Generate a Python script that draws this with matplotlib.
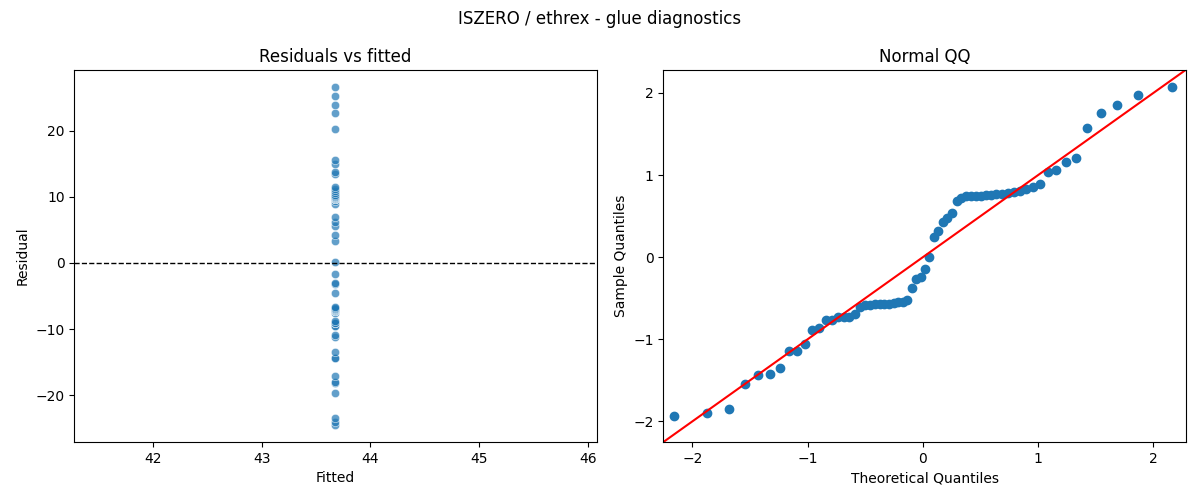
import numpy as np
import matplotlib
matplotlib.use("Agg")
import matplotlib.pyplot as plt
import seaborn as sns
from statistics import NormalDist

# residuals of the glue model (sorted)
residuals = [
    -24.5, -24.1, -23.5, -19.6, -18.2, -18.0, -17.1, -14.4, -14.4, -13.4,
    -11.2, -10.9, -9.6, -9.6, -9.1, -9.1, -9.1, -8.7, -7.6, -7.3,
    -7.3, -7.2, -7.2, -7.1, -7.1, -7.0, -6.9, -6.8, -6.6, -4.6,
    -3.2, -3.0, -1.7, 0.1, 3.3, 4.2, 5.6, 6.2, 7.0, 8.9,
    9.4, 9.6, 9.6, 9.7, 9.7, 9.8, 9.8, 9.9, 10.0, 10.1,
    10.2, 10.5, 10.8, 11.1, 11.5, 13.4, 13.7, 15.0, 15.6, 20.2,
    22.6, 23.8, 25.3, 26.6,
]
# the model predicts a single value for every row
fitted_value = 43.68
fitted = [fitted_value] * len(residuals)

qq_limits = (-2.25, 2.28)

resid = np.array(residuals)
n = len(resid)

# standardised sample quantiles vs normal theoretical quantiles
sample_q = np.sort((resid - resid.mean()) / resid.std())
nd = NormalDist()
theo_q = np.array([nd.inv_cdf(i / (n + 1)) for i in range(1, n + 1)])

fig, axes = plt.subplots(1, 2, figsize=(12, 5), dpi=100)

# Residuals vs fitted
ax = axes[0]
sns.scatterplot(x=fitted, y=residuals, alpha=0.7, ax=ax)
ax.axhline(0, color='black', linestyle='--', linewidth=1)
ax.set_title('Residuals vs fitted')
ax.set_xlabel('Fitted')
ax.set_ylabel('Residual')

# Normal QQ
ax = axes[1]
ax.plot(theo_q, sample_q, marker='o', linestyle='None',
        markerfacecolor='C0', markeredgecolor='C0')
ax.plot(qq_limits, qq_limits, 'r')
ax.set_xlim(qq_limits)
ax.set_ylim(qq_limits)
ax.set_title('Normal QQ')
ax.set_xlabel('Theoretical Quantiles')
ax.set_ylabel('Sample Quantiles')

fig.suptitle('ISZERO / ethrex - glue diagnostics')
fig.subplots_adjust(left=0.062, right=0.988, bottom=0.116, top=0.86, wspace=0.128)
fig.savefig('out.png')
